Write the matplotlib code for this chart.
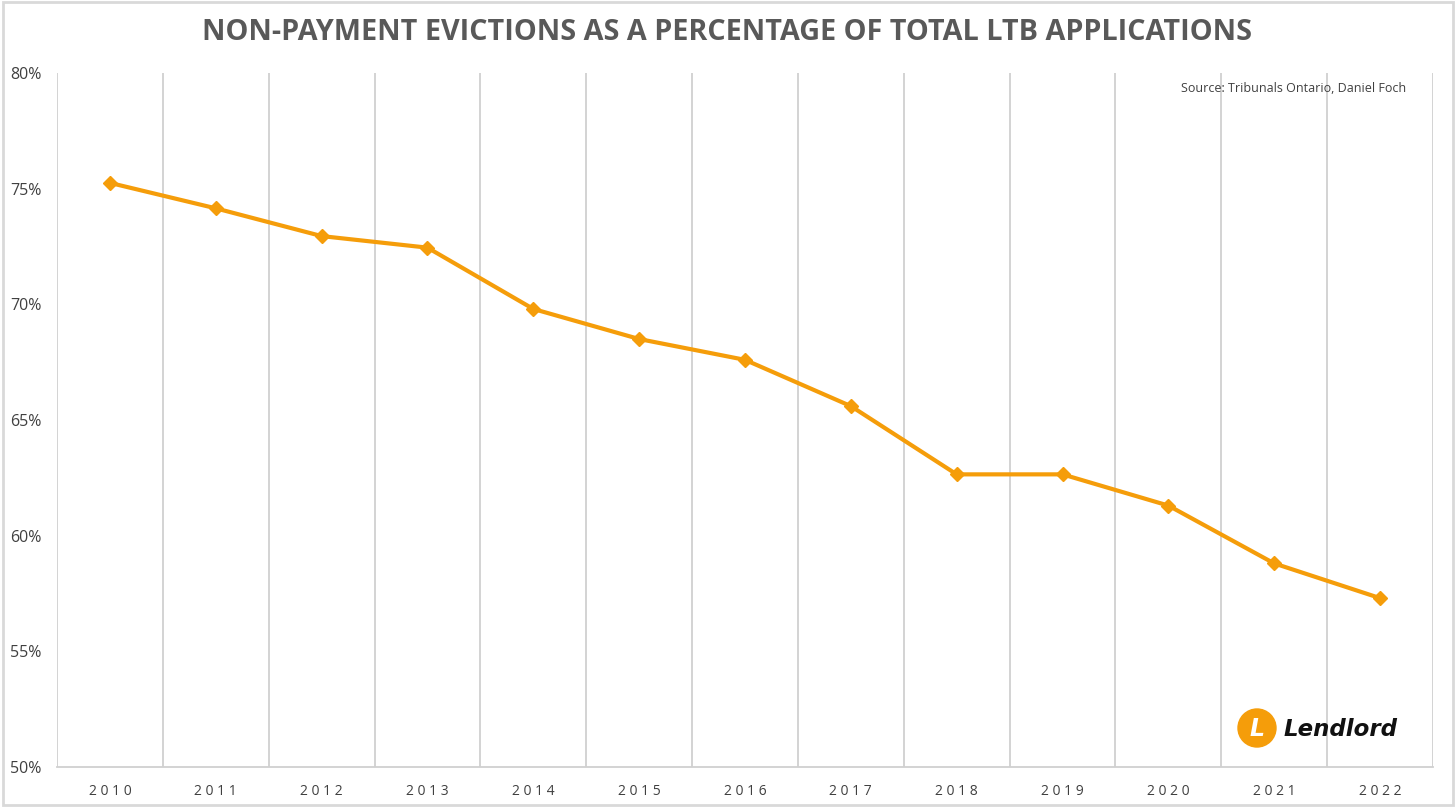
import numpy as np
import matplotlib.pyplot as plt
from matplotlib.patches import Ellipse, Rectangle

# data
years = ['2010', '2011', '2012', '2013', '2014', '2015', '2016',
         '2017', '2018', '2019', '2020', '2021', '2022']
share = [75.25, 74.15, 72.95, 72.45, 69.8, 68.5, 67.6,
         65.6, 62.65, 62.65, 61.3, 58.8, 57.3]
y_ticks = [50, 55, 60, 65, 70, 75, 80]

line_color = '#F59D0A'
grid_color = '#D0D0D0'
text_color = '#404040'

W, H = 1456, 807
fig = plt.figure(figsize=(W / 100, H / 100), dpi=100)
ax = fig.add_axes([57 / W, 40 / H, (1433 - 57) / W, (767 - 73) / H])

x = np.arange(len(years))
ax.plot(x, share, color=line_color, linewidth=3, marker='D', markersize=7,
        zorder=3)

ax.set_xlim(-0.5, len(years) - 0.5)
ax.set_ylim(50, 80)

# vertical grid lines between categories
for b in np.arange(-0.5, len(years), 1.0):
    ax.axvline(b, color=grid_color, linewidth=1.3, zorder=1)

for s in ['top', 'right', 'left']:
    ax.spines[s].set_visible(False)
ax.spines['bottom'].set_color(grid_color)
ax.spines['bottom'].set_linewidth(1.3)

ax.set_xticks(x)
ax.set_xticklabels([' '.join(y) for y in years], fontsize=10, color=text_color,
                   family='Open Sans')
ax.set_yticks(y_ticks)
ax.set_yticklabels([f'{v}%' for v in y_ticks], fontsize=11.5, color=text_color,
                   family='Open Sans')
ax.tick_params(axis='both', length=0)
ax.tick_params(axis='x', pad=12)
ax.tick_params(axis='y', pad=11)

fig.text(0.5 - 1 / W, 1 - 33 / H, 'NON-PAYMENT EVICTIONS AS A PERCENTAGE OF TOTAL LTB APPLICATIONS',
         ha='center', va='center', fontsize=20.7, fontweight='bold',
         color='#595959', family='Open Sans')

fig.text(1406 / W, 1 - 88 / H, 'Source: Tribunals Ontario, Daniel Foch',
         ha='right', va='center', fontsize=9, color=text_color, family='Open Sans')

# Lendlord logo
fig.patches.append(Ellipse((1257 / W, 1 - 728 / H), 38 / W, 38 / H,
                           transform=fig.transFigure, color='#F59D0A', zorder=5))
fig.text(1257 / W, 1 - 729 / H, 'L', ha='center', va='center', fontsize=17,
         fontweight='bold', style='italic', color='white', family='DejaVu Sans',
         zorder=6)
fig.text(1284 / W, 1 - 729 / H, 'Lendlord', ha='left', va='center',
         fontsize=16.5, fontweight='bold', style='italic', color='#111111',
         family='DejaVu Sans', zorder=6)

# light outer border
fig.patches.append(Rectangle((0.002, 0.003), 0.996, 0.994, transform=fig.transFigure,
                             fill=False, edgecolor='#D9D9D9', linewidth=2))

fig.savefig('out.png', dpi=100)
